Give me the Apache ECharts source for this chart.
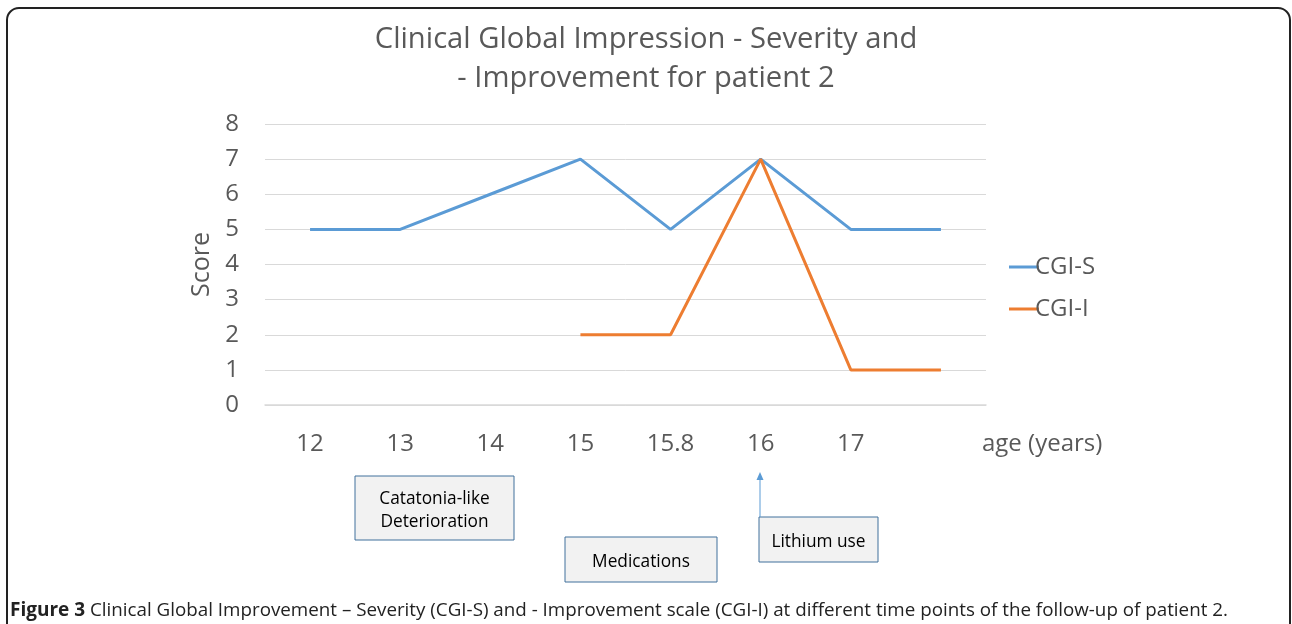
<!DOCTYPE html>
<html>
<head>
<meta charset="utf-8">
<script src="https://cdn.jsdelivr.net/npm/echarts@6/dist/echarts.min.js"></script>
<style>
html, body { margin: 0; padding: 0; background: #fff; }
#main { width: 1292px; height: 624px; }
</style>
</head>
<body>
<div id="main"></div>
<script>
var ages = ['12', '13', '14', '15', '15.8', '16', '17', ''];
var cgiS = [5, 5, 6, 7, 5, 7, 5, 5];
var cgiI = ['-', '-', '-', 2, 2, 7, 1, 1];
var scoreTicks = [0, 1, 2, 3, 4, 5, 6, 7, 8];

var chart = echarts.init(document.getElementById('main'));
var grey = '#595959';
var font = '"Open Sans", "Noto Sans", sans-serif';

var option = {
	backgroundColor: '#fff',
	animation: false,
	textStyle: { fontFamily: font },
	title: {
		text: 'Clinical Global Impression - Severity and\n- Improvement for patient 2',
		left: 641,
		top: 15,
		textAlign: 'center',
		textStyle: { fontSize: 29.2, fontWeight: 'normal', color: grey, lineHeight: 39, fontFamily: font }
	},
	grid: { left: 265, right: 306, top: 124, bottom: 219 },
	legend: {
		orient: 'vertical',
		left: 1004,
		top: 250,
		itemGap: 18,
		itemWidth: 30,
		itemHeight: 3,
		icon: 'rect',
		textStyle: { fontSize: 24, color: grey, padding: [0, 0, 0, -9] },
		data: ['CGI-S', 'CGI-I']
	},
	xAxis: {
		type: 'category',
		data: ages,
		boundaryGap: true,
		name: 'age (years)',
		nameLocation: 'end',
		nameGap: -4,
		nameTextStyle: { fontSize: 24, color: grey, padding: [27, 0, 0, 0], verticalAlign: 'top', align: 'left' },
		axisLine: { show: true, lineStyle: { color: '#d9d9d9', width: 1.5 } },
		axisTick: { show: false },
		axisLabel: { fontSize: 24, color: grey, margin: 27 }
	},
	yAxis: {
		type: 'value',
		min: scoreTicks[0],
		max: scoreTicks[scoreTicks.length - 1],
		interval: 1,
		name: 'Score',
		nameLocation: 'middle',
		nameGap: 42,
		nameTextStyle: { fontSize: 25, color: grey },
		axisLine: { show: false },
		axisTick: { show: false },
		axisLabel: { fontSize: 24, color: grey, margin: 26, padding: [4, 0, 0, 0] },
		splitLine: { lineStyle: { color: '#d9d9d9', width: 1 } }
	},
	series: [
		{
			name: 'CGI-S',
			type: 'line',
			data: cgiS,
			symbol: 'none',
			lineStyle: { color: '#5b9bd5', width: 3 },
			itemStyle: { color: '#5b9bd5' },
			z: 2
		},
		{
			name: 'CGI-I',
			type: 'line',
			data: cgiI,
			symbol: 'none',
			lineStyle: { color: '#ed7d31', width: 3 },
			itemStyle: { color: '#ed7d31' },
			z: 3
		}
	],
	graphic: [
		{
			type: 'rect',
			shape: { x: 7, y: 8, width: 1283, height: 660, r: 12 },
			style: { fill: 'none', stroke: '#222', lineWidth: 2 },
			silent: true
		},
		{
			type: 'group',
			children: [
				{ type: 'rect', shape: { x: 355, y: 476, width: 159, height: 64 }, style: { fill: '#f2f2f2', stroke: '#41719c', lineWidth: 1 } },
				{ type: 'text', x: 434.5, y: 511, style: { text: 'Catatonia-like\nDeterioration', fontSize: 17.3, lineHeight: 23, fill: '#000', align: 'center', verticalAlign: 'middle', fontFamily: font } },
				{ type: 'rect', shape: { x: 565, y: 537, width: 152, height: 45 }, style: { fill: '#f2f2f2', stroke: '#41719c', lineWidth: 1 } },
				{ type: 'text', x: 641, y: 562, style: { text: 'Medications', fontSize: 17.3, fill: '#000', align: 'center', verticalAlign: 'middle', fontFamily: font } },
				{ type: 'rect', shape: { x: 759, y: 517, width: 119, height: 45 }, style: { fill: '#f2f2f2', stroke: '#41719c', lineWidth: 1 } },
				{ type: 'text', x: 818.5, y: 542, style: { text: 'Lithium use', fontSize: 17.3, fill: '#000', align: 'center', verticalAlign: 'middle', fontFamily: font } },
				{ type: 'line', shape: { x1: 760, y1: 517, x2: 760, y2: 478 }, style: { stroke: '#5b9bd5', lineWidth: 1 } },
				{ type: 'polygon', shape: { points: [[760, 472], [756.5, 480], [763.5, 480]] }, style: { fill: '#5b9bd5' } }
			]
		},
		{
			type: 'text',
			left: 10,
			top: 601,
			style: {
				text: '{b|Figure 3} Clinical Global Improvement – Severity (CGI-S) and - Improvement scale (CGI-I) at different time points of the follow-up of patient 2.',
				fontSize: 18.8,
				fill: '#222',
				fontFamily: font,
				rich: {
					b: { fontSize: 19, fontWeight: 'bold', fill: '#222', fontFamily: font }
				}
			}
		}
	]
};

chart.setOption(option);
</script>
</body>
</html>
